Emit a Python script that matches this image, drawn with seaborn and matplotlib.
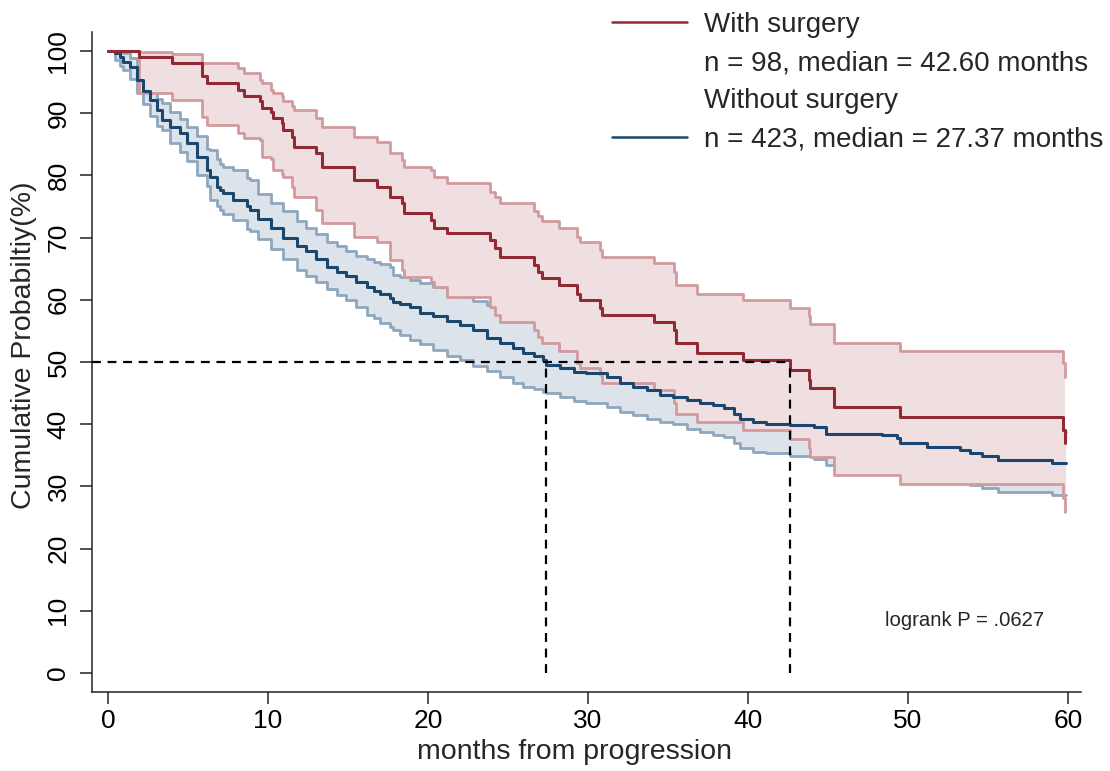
import numpy as np
import pandas as pd
import seaborn as sns
import matplotlib.pyplot as plt
from matplotlib.lines import Line2D

# With surgery (n = 98): event times (months) and KM estimate / 95% CI (%)
red_t = [0, 1.96, 3.98, 5.85, 6.17, 8.15, 8.5, 9.5, 9.6, 10.2, 10.3, 10.85, 10.96,
         11.5, 11.6, 13.0, 13.4, 15.4, 16.8, 17.6, 18.4, 18.5, 20.2, 20.4, 21.2,
         23.9, 24.2, 24.5, 26.6, 26.9, 27.1, 28.2, 29.3, 29.5, 30.75, 30.9, 34.1,
         35.4, 35.5, 36.8, 39.7, 42.6, 43.8, 43.9, 45.4, 49.5, 59.7, 59.83]
red_s = [100, 99.1, 98.0, 95.9, 94.8, 93.7, 92.7, 91.9, 90.8, 90.2, 89.2, 88.4, 87.3,
         86.2, 84.6, 83.6, 81.4, 79.3, 78.2, 76.6, 75.5, 73.9, 72.8, 71.5, 70.7,
         69.6, 68.3, 66.9, 65.6, 64.5, 63.5, 62.4, 61.0, 60.0, 58.6, 57.6, 56.5,
         55.1, 53.0, 51.4, 50.3, 48.7, 47.1, 45.8, 42.8, 41.1, 39.1, 36.9]
red_hi = [100, 99.9, 99.5, 98.0, 98.0, 97.2, 96.4, 95.3, 94.8, 93.7, 93.2, 92.7, 92.0,
          91.2, 90.5, 89.2, 87.8, 86.2, 85.4, 83.6, 82.5, 81.4, 80.9, 79.8, 78.7,
          77.4, 76.6, 75.5, 74.2, 73.4, 72.6, 71.5, 70.1, 69.3, 68.0, 66.9, 65.9,
          64.5, 62.4, 61.0, 59.9, 58.7, 57.4, 56.1, 53.1, 51.7, 49.8, 47.6]
red_lo = [100, 93.2, 92.1, 89.4, 88.1, 86.8, 86.0, 85.7, 83.0, 82.7, 80.9, 80.3, 79.8,
          78.2, 76.6, 74.4, 72.3, 70.1, 69.3, 66.4, 64.8, 63.7, 62.9, 62.1, 60.5,
          58.9, 57.6, 56.5, 55.1, 54.0, 53.0, 51.7, 49.8, 49.0, 47.9, 46.6, 45.5,
          43.4, 41.7, 40.4, 39.1, 37.6, 36.1, 34.8, 31.8, 30.4, 28.1, 25.9]

# Without surgery (n = 423)
blue_t = [0, 0.44, 0.75, 0.96, 1.375, 1.79, 2.21, 2.625, 3.04, 3.35, 3.875, 4.5, 4.92,
          5.54, 6.17, 6.4, 6.79, 7.0, 7.21, 7.83, 8.67, 8.875, 9.4, 10.2, 10.96, 11.8,
          12.4, 13.0, 13.7, 14.3, 14.9, 15.5, 16.2, 16.6, 17.0, 17.6, 17.8, 18.25,
          18.9, 19.5, 20.3, 21.2, 22.0, 22.8, 23.7, 24.5, 25.3, 25.96, 26.6, 27.2,
          27.37, 28.25, 29.1, 29.9, 31.2, 32.0, 32.8, 33.7, 34.5, 35.3, 36.2, 37.0,
          37.8, 38.5, 39.1, 39.5, 40.3, 41.1, 42.6, 44.1, 44.9, 48.4, 49.3, 49.5,
          51.2, 53.25, 53.9, 54.6, 55.6, 59.0, 59.9]
blue_s = [100, 99.6, 99.1, 98.3, 97.5, 95.3, 93.5, 92.1, 90.5, 88.9, 87.8, 86.8, 85.2,
          83.0, 80.9, 79.8, 78.2, 77.7, 77.1, 76.0, 75.0, 74.4, 73.0, 71.6, 70.0, 68.6,
          67.8, 66.5, 65.3, 64.5, 63.8, 62.9, 62.1, 61.4, 61.0, 60.3, 59.7, 59.3,
          58.9, 57.9, 57.4, 56.6, 55.9, 55.1, 53.8, 53.0, 52.2, 51.4, 50.9, 50.3,
          49.5, 49.0, 48.4, 48.2, 47.6, 46.6, 46.0, 45.5, 44.7, 44.4, 43.9, 43.4,
          43.1, 42.6, 41.7, 40.9, 40.4, 40.1, 39.9, 39.6, 38.5, 38.3, 37.7, 36.9,
          36.4, 35.9, 35.3, 34.9, 34.2, 33.7, 33.7]
blue_hi = [100, 100, 99.8, 99.6, 98.8, 96.6, 94.8, 93.3, 92.3, 91.6, 90.2, 89.0, 87.8,
           86.3, 84.2, 84.1, 82.6, 81.9, 81.4, 80.9, 79.6, 79.3, 77.0, 75.5, 74.3, 72.6,
           71.5, 70.6, 69.3, 68.7, 67.8, 67.0, 66.5, 66.1, 65.7, 65.3, 64.0, 63.7,
           63.1, 62.7, 62.1, 61.2, 60.5, 59.8, 59.1, 57.9, 56.8, 56.5, 56.0, 55.2,
           54.4, 53.9, 53.3, 53.1, 52.5, 51.5, 50.9, 50.4, 49.6, 49.3, 48.8, 48.3,
           48.0, 47.5, 46.6, 45.8, 45.3, 45.0, 44.8, 44.5, 43.4, 43.2, 42.6, 41.8,
           41.3, 40.8, 40.2, 39.8, 39.1, 38.8, 38.8]
blue_lo = [100, 98.5, 97.6, 96.9, 95.5, 93.3, 91.4, 89.5, 87.9, 87.3, 85.2, 83.7, 82.3,
           80.1, 78.3, 76.0, 75.0, 74.4, 73.8, 72.8, 71.4, 71.0, 69.8, 68.2, 66.5, 64.8,
           63.8, 62.8, 61.7, 60.8, 60.0, 58.9, 57.5, 57.0, 56.3, 55.6, 55.2, 54.3,
           53.6, 52.9, 51.9, 51.0, 50.3, 49.4, 48.5, 47.6, 46.6, 46.0, 45.6, 45.1,
           45.0, 44.4, 43.8, 43.4, 42.8, 42.0, 41.5, 40.9, 40.3, 40.0, 39.3, 38.8,
           38.3, 37.9, 36.9, 36.1, 35.6, 35.3, 34.9, 34.4, 33.4, 33.2, 32.6, 31.8,
           31.3, 30.8, 30.2, 29.7, 29.1, 28.6, 28.6]

legend_labels = ["With surgery", "n = 98, median = 42.60 months",
                 "Without surgery", "n = 423, median = 27.37 months"]
x_ticks = [0, 10, 20, 30, 40, 50, 60]
y_ticks = [0, 10, 20, 30, 40, 50, 60, 70, 80, 90, 100]

RED, RED_CI, RED_FILL = "#932a33", "#d29a9d", "#f0dfe0"
BLUE, BLUE_CI, BLUE_FILL = "#1a476f", "#8ea7be", "#dce3ea"

sns.set_style("ticks")
plt.rcParams["font.family"] = ["Liberation Sans", "DejaVu Sans"]

red = pd.DataFrame({"t": red_t, "s": red_s, "hi": red_hi, "lo": red_lo})
blue = pd.DataFrame({"t": blue_t, "s": blue_s, "hi": blue_hi, "lo": blue_lo})

fig = plt.figure(figsize=(11.1, 7.71), dpi=100)
ax = fig.add_axes([0.0829, 0.1025, 0.8908, 0.856])

# blue band first, then the red band over it
ax.fill_between(blue["t"], blue["lo"], blue["hi"], step="post", color=BLUE_FILL, lw=0, zorder=1)
for col in ["hi", "lo"]:
    sns.lineplot(data=blue, x="t", y=col, ax=ax, color=BLUE_CI, lw=2.0,
                 drawstyle="steps-post", estimator=None, sort=False, zorder=2)
ax.fill_between(red["t"], red["lo"], red["hi"], step="post", color=RED_FILL, lw=0, zorder=3)
for col in ["hi", "lo"]:
    sns.lineplot(data=red, x="t", y=col, ax=ax, color=RED_CI, lw=2.0,
                 drawstyle="steps-post", estimator=None, sort=False, zorder=4)

sns.lineplot(data=blue, x="t", y="s", ax=ax, color=BLUE, lw=2.2,
             drawstyle="steps-post", estimator=None, sort=False, zorder=5)
sns.lineplot(data=red, x="t", y="s", ax=ax, color=RED, lw=2.2,
             drawstyle="steps-post", estimator=None, sort=False, zorder=6)

ax.set_xlim(-1, 60.8)
ax.set_ylim(-3.05, 103.05)

# median reference lines
med_red = red.loc[red["s"] <= 50, "t"].iloc[0]
med_blue = blue.loc[blue["s"] <= 50, "t"].iloc[0]
ax.hlines(50, -1, max(med_red, med_blue), colors="black", lw=1.6,
          linestyles=(0, (4, 3)), zorder=7)
ax.vlines([med_blue, med_red], 0, 50, colors="black", lw=1.6,
          linestyles=(0, (4, 3)), zorder=7)

ax.set_xticks(x_ticks)
ax.set_yticks(y_ticks)
ax.tick_params(direction="out", length=8.5, width=1.1, colors="#222222",
               labelsize=19, labelcolor="black")
ax.tick_params(axis="x", pad=4)
ax.tick_params(axis="y", pad=7)
plt.setp(ax.get_yticklabels(), rotation=90, va="center")
sns.despine(ax=ax)
for sp in ["left", "bottom"]:
    ax.spines[sp].set_linewidth(1.1)
    ax.spines[sp].set_color("#222222")

ax.set_xlabel("months from progression", fontsize=20.5)
ax.set_ylabel("Cumulative Probabiltiy(%)", fontsize=20.5)
ax.xaxis.set_label_coords(0.488, -0.072)
ax.yaxis.set_label_coords(-0.0556, 0.526)

ax.text(0.802, 0.109, "logrank P = .0627", transform=ax.transAxes,
        fontsize=14.6, va="center", ha="left")

handles = [Line2D([], [], color=RED, lw=1.8),
           Line2D([], [], color="none"),
           Line2D([], [], color="none"),
           Line2D([], [], color=BLUE, lw=1.8)]
fig.legend(handles, legend_labels, loc="upper left",
           bbox_to_anchor=(612 / 1110, 1 - 12 / 771), frameon=False,
           fontsize=20, handlelength=2.7, handletextpad=0.62,
           labelspacing=0.44, borderpad=0, borderaxespad=0)

fig.savefig("out.png", dpi=100)
plt.close(fig)
